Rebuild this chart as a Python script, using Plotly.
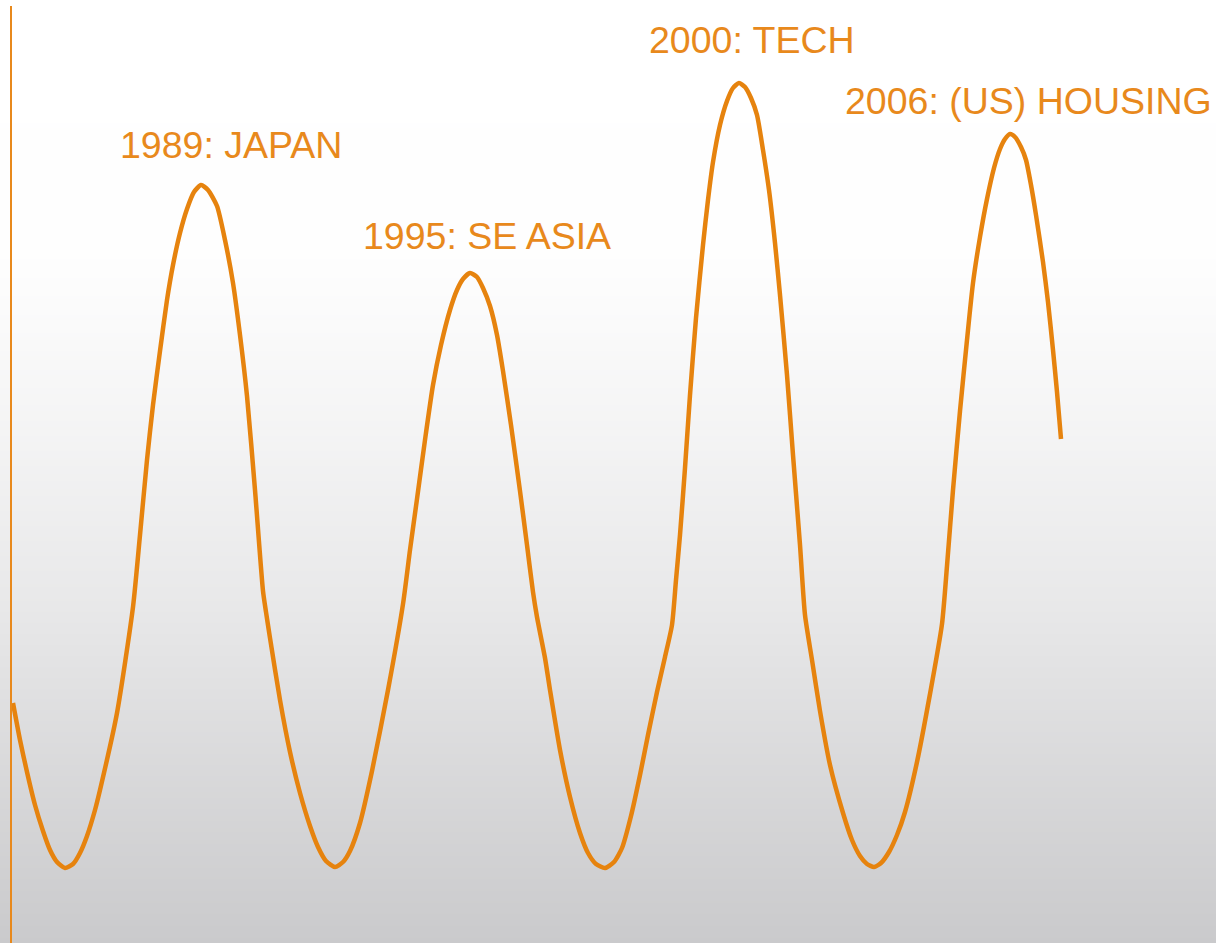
import plotly.graph_objects as go

# Stylised boom/bust cycle: position along the timeline and bubble level
cycle_t = [13, 20, 27, 35, 43, 50, 57, 65, 73, 80, 87, 95, 100, 117, 133, 140, 147, 153, 160, 167, 173,
           180, 187, 194, 201, 208, 217, 225, 233, 240, 247, 255, 263, 266, 270, 280, 290, 300, 310,
           318, 326, 335, 343, 350, 360, 372, 388, 403, 410, 417, 425, 433, 441, 450, 457, 463, 470,
           477, 483, 490, 497, 503, 511, 520, 527, 533, 537, 545, 550, 560, 570, 580, 588, 596, 605,
           614, 622, 631, 640, 648, 657, 665, 672, 676, 680, 685, 690, 696, 703, 708, 713, 720, 727,
           733, 739, 745, 751, 757, 763, 769, 775, 780, 787, 793, 800, 805, 812, 820, 830, 843, 852,
           860, 867, 874, 881, 889, 897, 905, 917, 930, 942, 947, 953, 960, 967, 973, 980, 987, 994,
           1000, 1005, 1010, 1015, 1021, 1026, 1031, 1036, 1043, 1048, 1053, 1057, 1061]
cycle_level = [240, 203, 171, 138, 112, 93, 81, 75, 79, 90, 107, 133, 153, 230, 336, 408, 483, 538, 592, 643, 678,
               710, 734, 751, 758, 753, 737, 703, 660, 608, 547, 453, 352, 331, 305, 243, 191, 150, 117,
               96, 82, 76, 81, 92, 120, 172, 253, 339, 393, 444, 503, 558, 598, 633, 653, 664, 670,
               666, 655, 637, 608, 572, 518, 452, 398, 351, 326, 285, 253, 193, 146, 110, 90, 79, 75,
               81, 95, 127, 168, 208, 251, 286, 318, 363, 408, 475, 548, 625, 698, 743, 781, 818, 842,
               855, 860, 856, 845, 828, 793, 753, 700, 648, 568, 488, 398, 328, 283, 232, 178, 130, 103,
               87, 79, 76, 80, 91, 108, 131, 181, 249, 319, 377, 453, 532, 603, 660, 706, 744, 775,
               794, 804, 809, 806, 796, 783, 758, 728, 681, 641, 593, 551, 504]

# Bubble labels and where they sit
bubble_labels = ["1989: JAPAN", "1995: SE ASIA", "2000: TECH", "2006: (US) HOUSING"]
label_t = [231, 487, 752, 1028]
label_level = [798, 707, 903, 842]

# Backdrop shading: grey value at each level (white on top, grey at the bottom)
shade_level = [-20, 0, 143, 343, 543, 693, 943, 970]
shade_value = [202, 203, 215, 233, 246, 254, 255, 255]

ORANGE = "#e6830e"
LABEL_ORANGE = "#e8891c"

fig = go.Figure()

fig.add_trace(go.Heatmap(
    x=[-50, 1300],
    y=shade_level,
    z=[[v, v] for v in shade_value],
    zmin=203, zmax=255,
    colorscale=[[0, "rgb(202,202,204)"], [1, "rgb(255,255,255)"]],
    zsmooth="best",
    showscale=False,
    hoverinfo="skip",
))

fig.add_trace(go.Scatter(
    x=cycle_t, y=cycle_level,
    mode="lines",
    line=dict(color=ORANGE, width=4.5, shape="spline", smoothing=0.6),
    hoverinfo="skip",
))

# Left-hand time axis rule
fig.add_shape(type="line", x0=11, x1=11, y0=-10, y1=937,
              line=dict(color=LABEL_ORANGE, width=2), layer="above")

for text, t, lv in zip(bubble_labels, label_t, label_level):
    fig.add_annotation(x=t, y=lv, text=text, showarrow=False,
                       xanchor="center", yanchor="middle",
                       font=dict(family="Liberation Sans, Arial, sans-serif", size=37.5, color=LABEL_ORANGE))

fig.update_layout(
    width=1216, height=943,
    margin=dict(l=0, r=0, t=0, b=0),
    paper_bgcolor="white",
    plot_bgcolor="rgba(0,0,0,0)",
    showlegend=False,
    xaxis=dict(range=[0, 1216], visible=False, fixedrange=True),
    yaxis=dict(range=[0, 943], visible=False, fixedrange=True),
    hovermode=False,
)

fig.write_html("out.html", config={"displayModeBar": False})
